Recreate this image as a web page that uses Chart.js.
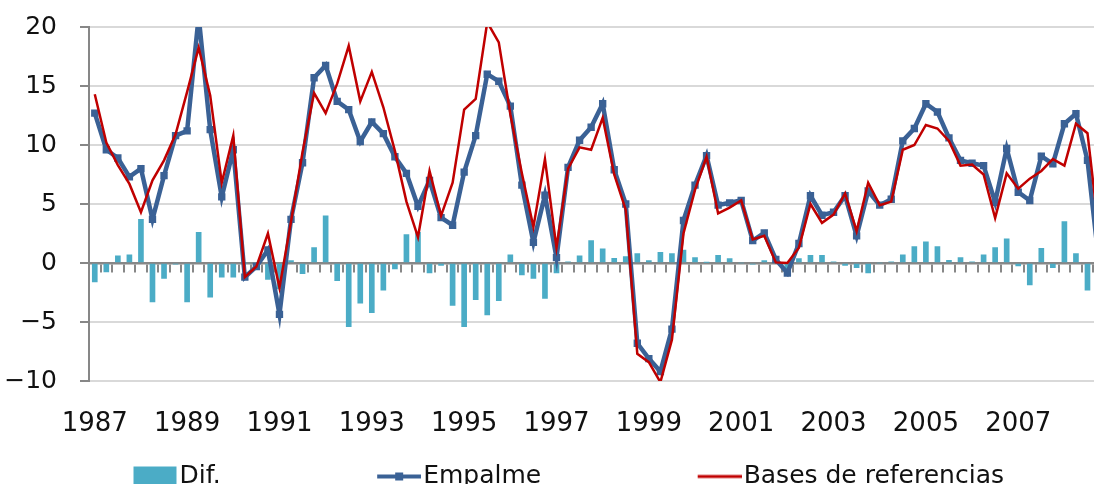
<!DOCTYPE html>
<html lang="es">
<head>
<meta charset="UTF-8">
<title>Empalme vs bases de referencias</title>
<style>
  html, body { margin: 0; padding: 0; background: #fff; overflow: hidden; }
  /* the original picture is cropped on the right and bottom, so the chart is a bit bigger than the window */
  #frame { width: 1094px; height: 484px; overflow: hidden; position: relative; }
  #myChart { position: absolute; left: 0; top: 0; }
</style>
</head>
<body>

<div id="frame"><canvas id="myChart" width="1110" height="499"></canvas></div>

<script src="https://cdn.jsdelivr.net/npm/chart.js@4.4.0/dist/chart.umd.min.js"></script>
<script>
// quarterly, 1987-T1 .. 2008-T4
const years = [1987, 1988, 1989, 1990, 1991, 1992, 1993, 1994, 1995, 1996, 1997,
               1998, 1999, 2000, 2001, 2002, 2003, 2004, 2005, 2006, 2007, 2008];
const quarters = years.flatMap(y => ['T1', 'T2', 'T3', 'T4'].map(q => y + '-' + q));

const yearTicks = ['1987', '1989', '1991', '1993', '1995', '1997', '1999', '2001', '2003', '2005', '2007'];

const empalme = [
  12.7, 9.6, 8.9, 7.3,   8.0, 3.7, 7.4, 10.8,   11.2, 20.9, 11.3, 5.6,   9.6, -1.2, -0.3, 1.1,
  -4.35, 3.7, 8.5, 15.7,   16.75, 13.7, 13.0, 10.3,   11.95, 10.96, 9.0, 7.6,   4.8, 7.0, 3.85, 3.2,
  7.7, 10.8, 16.0, 15.4,   13.3, 6.6, 1.75, 5.75,   0.45, 8.1, 10.4, 11.5,   13.5, 7.9, 5.0, -6.8,
  -8.1, -9.2, -5.6, 3.6,   6.6, 9.1, 4.9, 5.1,   5.3, 1.9, 2.55, 0.3,   -0.85, 1.65, 5.7, 4.05,
  4.3, 5.7, 2.3, 6.1,   4.9, 5.4, 10.35, 11.4,   13.5, 12.8, 10.6, 8.7,   8.45, 8.25, 5.15, 9.7,
  6.0, 5.3, 9.05, 8.4,   11.8, 12.65, 8.7, 0.0
];

const bases = [
  14.3, 10.2, 8.3, 6.7,   4.3, 7.0, 8.7, 10.9,   14.5, 18.25, 14.2, 6.8,   10.8, -1.2, -0.3, 2.5,
  -2.1, 3.5, 9.4, 14.4,   12.7, 15.2, 18.4, 13.7,   16.2, 13.2, 9.5, 5.2,   2.2, 7.8, 4.0, 6.8,
  13.0, 13.9, 20.4, 18.7,   12.6, 7.6, 3.05, 8.8,   1.3, 8.0, 9.8, 9.6,   12.3, 7.5, 4.5, -7.7,
  -8.4, -10.1, -6.5, 2.5,   6.2, 9.0, 4.2, 4.7,   5.3, 2.0, 2.3, 0.05,   0.0, 1.3, 5.0, 3.4,
  4.1, 5.9, 2.7, 6.8,   4.9, 5.2, 9.6, 10.0,   11.7, 11.4, 10.35, 8.25,   8.35, 7.5, 3.8, 7.6,
  6.3, 7.15, 7.8, 8.8,   8.25, 11.8, 11.0, 2.5
];

const dif = [
  -1.6, -0.75, 0.6, 0.7,   3.7, -3.3, -1.3, -0.1,   -3.3, 2.6, -2.9, -1.2,   -1.2, 0.0, 0.0, -1.4,
  -2.2, 0.2, -0.9, 1.3,   4.0, -1.5, -5.4, -3.4,   -4.2, -2.3, -0.5, 2.4,   2.6, -0.85, -0.2, -3.6,
  -5.4, -3.1, -4.4, -3.2,   0.7, -1.0, -1.3, -3.0,   -0.85, 0.1, 0.6, 1.9,   1.2, 0.4, 0.55, 0.8,
  0.2, 0.9, 0.8, 1.1,   0.45, 0.05, 0.65, 0.37,   0.0, -0.1, 0.2, 0.2,   -0.8, 0.37, 0.65, 0.65,
  0.1, -0.2, -0.4, -0.85,   0.0, 0.1, 0.7, 1.4,   1.8, 1.4, 0.23, 0.45,   0.1, 0.7, 1.3, 2.05,
  -0.25, -1.85, 1.25, -0.4,   3.5, 0.8, -2.3, -2.5
];

const TEAL = '#4bacc6';
const BLUE = '#3a6195';
const RED = '#c00000';
const AXIS_GREY = '#878787';

// legend: wide reserved box so items spread out like the original, icon sits just left of the text
const LEG_PAD = 20;
const LEG_BOX = 170;

function legendIcon(draw) {
  const c = document.createElement('canvas');
  c.width = LEG_BOX + 21;
  c.height = 26;
  const g = c.getContext('2d');
  draw(g, c.width - 44, 13);
  return c;
}
const iconDif = legendIcon((g, x, y) => {
  g.fillStyle = TEAL;
  g.fillRect(x, y - 10, 43, 20);
});
const iconEmpalme = legendIcon((g, x, y) => {
  g.strokeStyle = BLUE;
  g.lineWidth = 4;
  g.beginPath(); g.moveTo(x, y); g.lineTo(x + 44, y); g.stroke();
  g.fillStyle = BLUE;
  g.fillRect(x + 18, y - 4, 8, 8);
});
const iconBases = legendIcon((g, x, y) => {
  g.strokeStyle = RED;
  g.lineWidth = 3;
  g.beginPath(); g.moveTo(x, y); g.lineTo(x + 44, y); g.stroke();
});

Chart.defaults.font.family = '"DejaVu Sans", Verdana, sans-serif';
Chart.defaults.font.size = 25;
Chart.defaults.color = '#111';

const ctx = document.getElementById('myChart').getContext('2d');

const chart = new Chart(ctx, {
  type: 'bar',
  data: {
    labels: quarters,
    datasets: [
      {
        label: 'Bases de referencias',
        type: 'line',
        data: bases,
        borderColor: RED,
        borderWidth: 2.5,
        pointRadius: 0,
        tension: 0,
        order: 1
      },
      {
        label: 'Empalme',
        type: 'line',
        data: empalme,
        borderColor: BLUE,
        backgroundColor: BLUE,
        borderWidth: 4.5,
        pointStyle: 'rect',
        pointRadius: 5.2,
        pointBorderWidth: 0,
        tension: 0,
        order: 2
      },
      {
        label: 'Dif.',
        data: dif,
        backgroundColor: TEAL,
        barThickness: 5,
        order: 3
      }
    ]
  },
  options: {
    responsive: false,
    animation: false,
    layout: { padding: { top: 27, left: -23, right: 4, bottom: 0 } },
    plugins: {
      tooltip: { enabled: false },
      legend: {
        position: 'bottom',
        align: 'start',
        labels: {
          usePointStyle: true,
          pointStyleWidth: LEG_BOX,
          padding: LEG_PAD,
          color: '#111',
          generateLabels: () => [
            { text: 'Dif.', pointStyle: iconDif, datasetIndex: 2, fontColor: '#111', lineWidth: 0 },
            { text: 'Empalme', pointStyle: iconEmpalme, datasetIndex: 1, fontColor: '#111', lineWidth: 0 },
            { text: 'Bases de referencias', pointStyle: iconBases, datasetIndex: 0, fontColor: '#111', lineWidth: 0 }
          ]
        }
      }
    },
    scales: {
      x: {
        offset: true,
        grid: { display: false, drawTicks: false },
        border: { display: false },
        ticks: {
          autoSkip: false,
          maxRotation: 0,
          padding: 28,
          font: { size: 26 },
          callback: (val, i) => (i % 8 === 0 ? yearTicks[i / 8] : '')
        },
        // fixed band height; drop the label overhang padding so the plot runs to the edge
        afterFit: s => { s.height = 63; s.paddingLeft = 0; s.paddingRight = 0; }
      },
      // zero line with the small category ticks hanging below it
      x2: {
        type: 'category',
        position: { y: 0 },
        offset: true,
        grid: { offset: true, drawOnChartArea: false, tickLength: 8, color: AXIS_GREY, lineWidth: 2 },
        border: { color: AXIS_GREY, width: 2.5 },
        ticks: { display: false }
      },
      y: {
        min: -10,
        max: 20,
        ticks: {
          stepSize: 5,
          padding: 23,
          callback: v => (v < 0 ? '\u2212' + Math.abs(v) : v)
        },
        grid: { color: '#d9d9d9', lineWidth: 2, tickLength: 9, tickColor: AXIS_GREY, tickWidth: 2 },
        border: { color: AXIS_GREY, width: 2 },
        afterFit: s => { s.width = 112; s.paddingTop = 0; s.paddingBottom = 0; }
      }
    }
  }
});
</script>

</body>
</html>
